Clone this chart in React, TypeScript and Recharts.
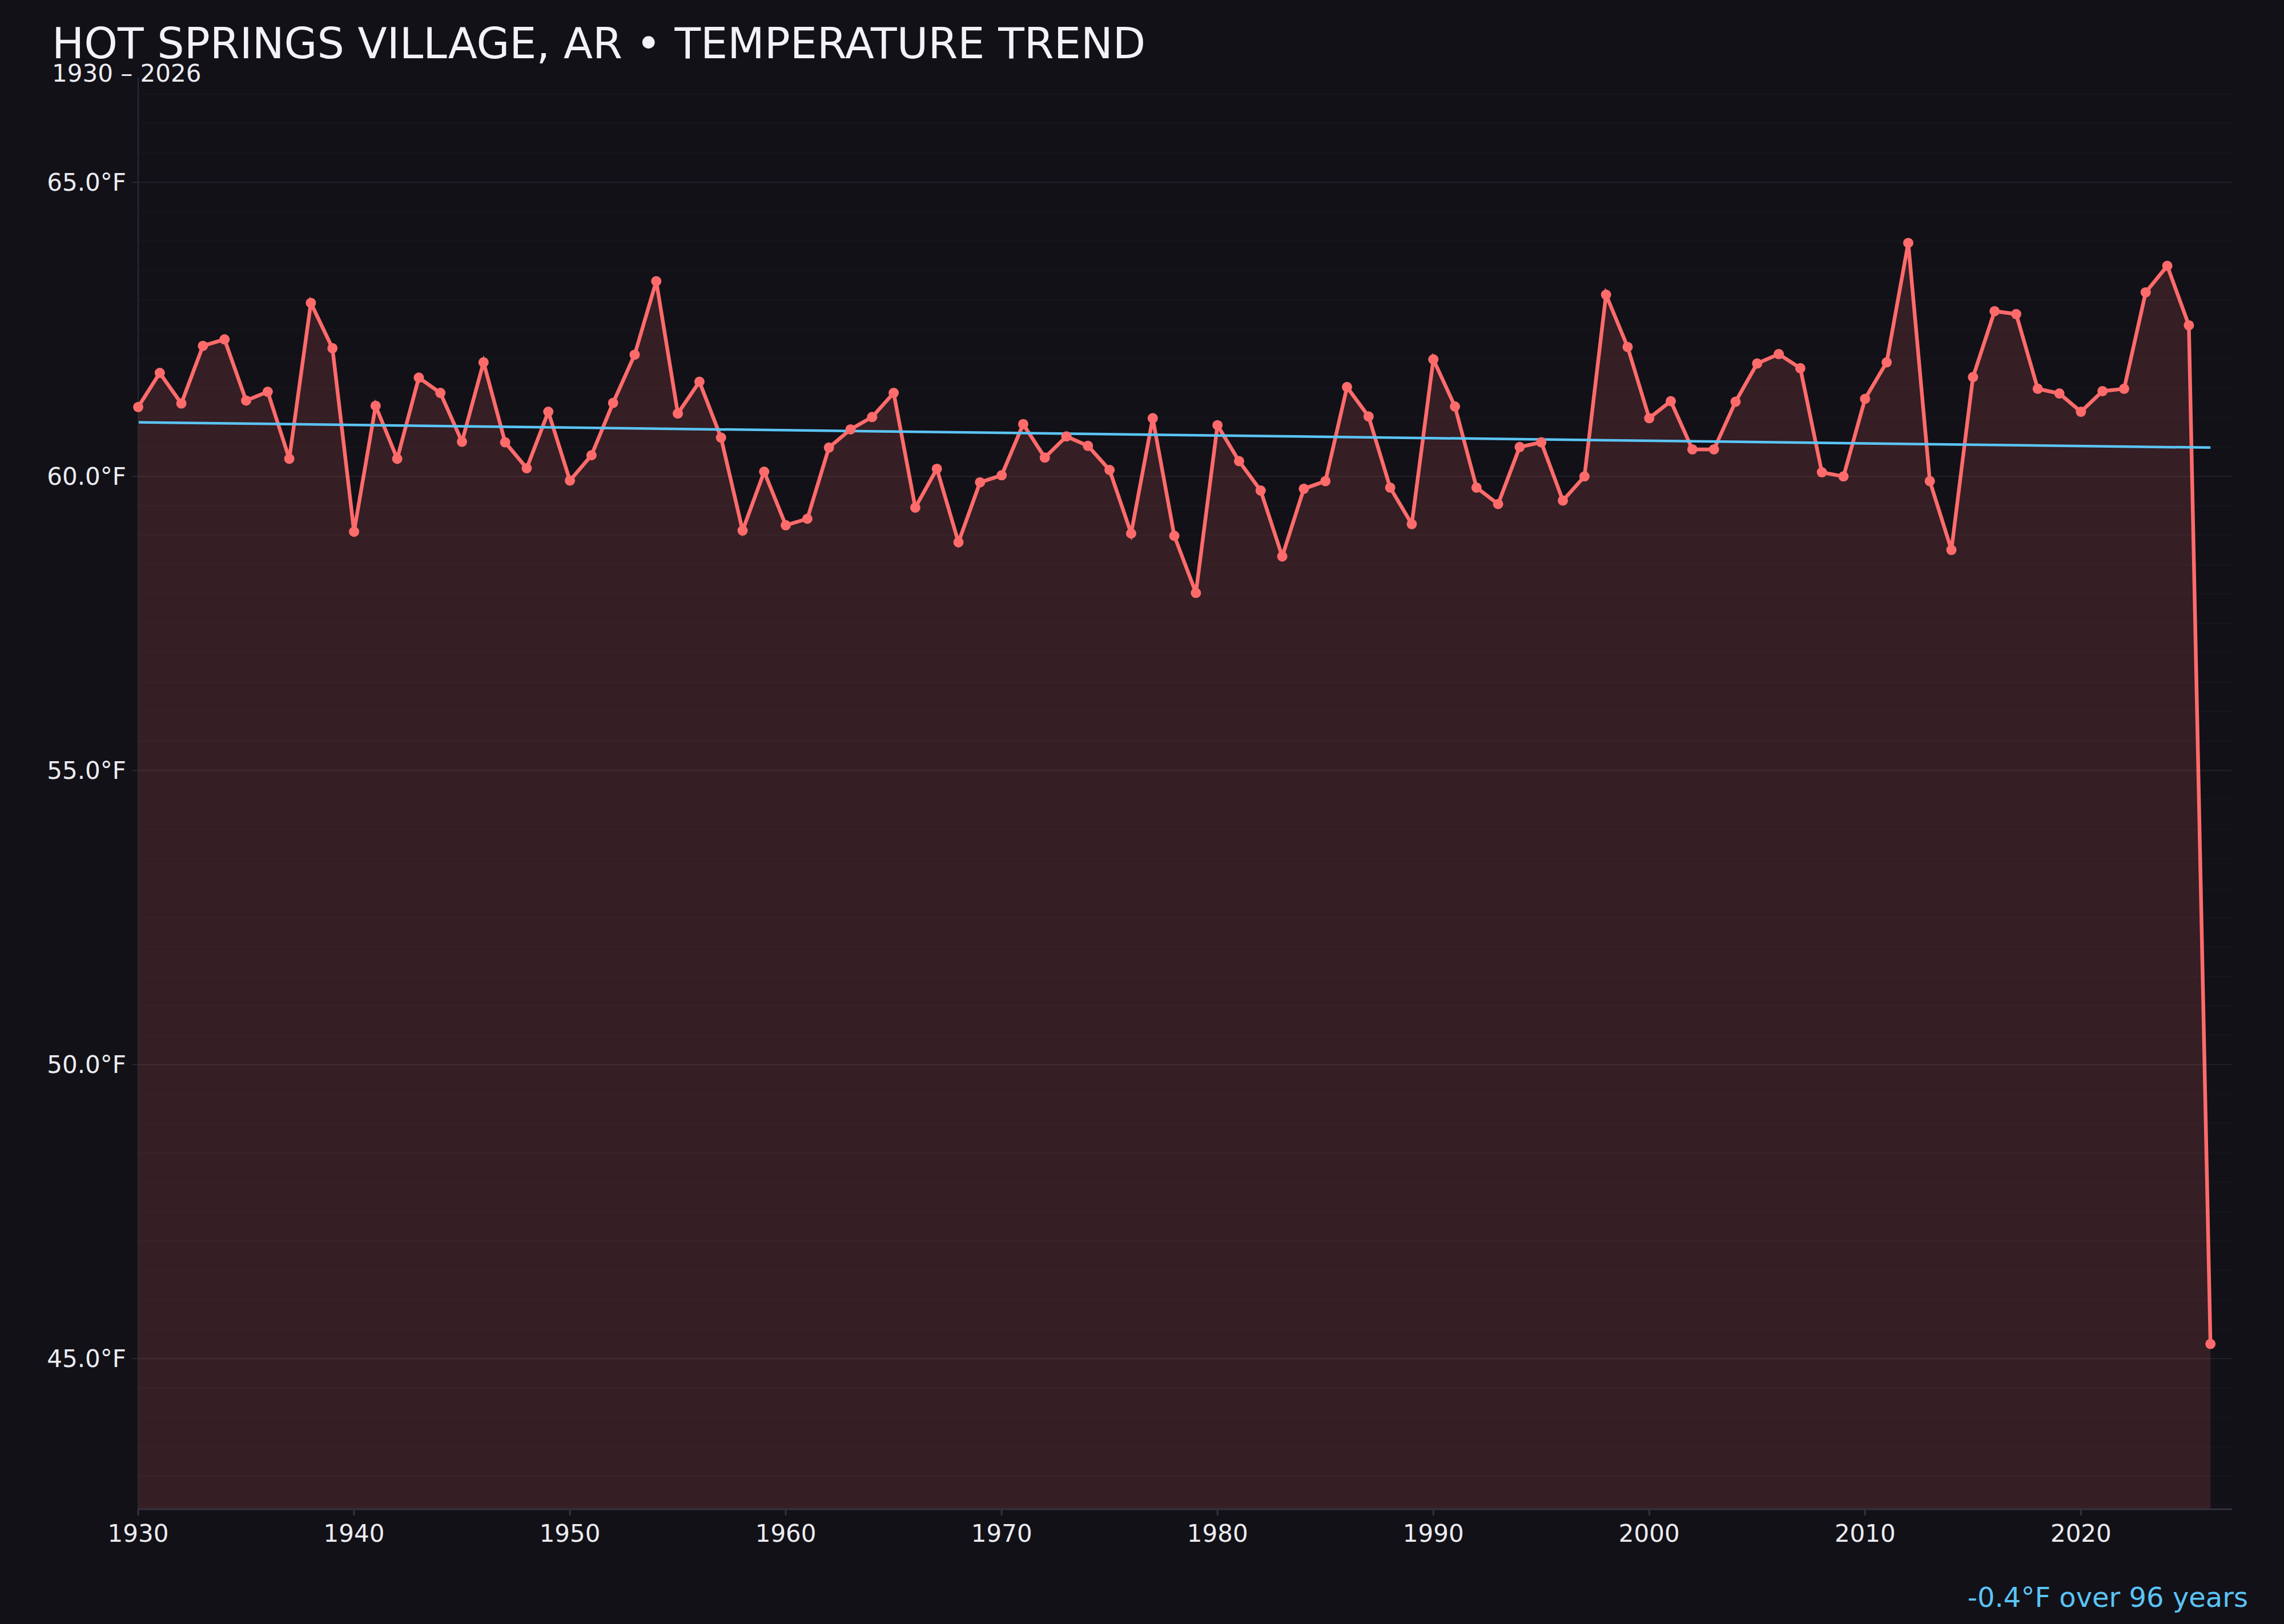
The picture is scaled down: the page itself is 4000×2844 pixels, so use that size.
import { Area, ComposedChart, Line, ReferenceLine, XAxis, YAxis } from "recharts"

const firstYear = 1930

// annual mean temperature, °F, 1930 – 2026
const temps = [
  61.18, 61.76, 61.24, 62.22, 62.33, 61.29, 61.44, 60.3, 62.95, 62.18,
  59.06, 61.2, 60.3, 61.68, 61.42, 60.59, 61.94, 60.58, 60.14, 61.1,
  59.93, 60.36, 61.25, 62.07, 63.32, 61.07, 61.61, 60.66, 59.08, 60.08,
  59.17, 59.28, 60.49, 60.8, 61.01, 61.42, 59.47, 60.13, 58.88, 59.9,
  60.02, 60.89, 60.32, 60.68, 60.52, 60.11, 59.03, 60.99, 58.99, 58.02,
  60.87, 60.26, 59.76, 58.64, 59.79, 59.92, 61.52, 61.02, 59.81, 59.19,
  61.99, 61.19, 59.81, 59.53, 60.5, 60.58, 59.59, 60.0, 63.09, 62.2,
  60.99, 61.28, 60.46, 60.46, 61.27, 61.92, 62.08, 61.84, 60.07, 60.0,
  61.32, 61.94, 63.97, 59.92, 58.75, 61.69, 62.81, 62.76, 61.49, 61.41,
  61.1, 61.45, 61.49, 63.13, 63.58, 62.57, 45.25,
]

// trend line end values
const trendStart = 60.92
const trendEnd = 60.49

const xTicks = [1930, 1940, 1950, 1960, 1970, 1980, 1990, 2000, 2010, 2020]
const yTicks = [45, 50, 55, 60, 65]

const title = "HOT SPRINGS VILLAGE, AR • TEMPERATURE TREND"
const subtitle = "1930 – 2026"
const trendLabel = "-0.4°F over 96 years"

const W = 4000
const H = 2844
const BG = "#121118"
const RED = "#ff6b6b"
const BLUE = "#5bc4f5"
const FONT = "'DejaVu Sans', sans-serif"
const Y_DOMAIN: [number, number] = [42.44, 66.78]

const data = temps.map((temp, i) => ({
  year: firstYear + i,
  temp,
  trend: i === 0 ? trendStart : i === temps.length - 1 ? trendEnd : null,
}))

// faint half-degree grid
const minorGrid: number[] = []
for (let v = 42.5; v <= 66.5; v += 0.5) {
  if (v % 5 !== 0) minorGrid.push(v)
}

export default function App() {
  return (
    <div style={{ position: "absolute", left: 0, top: 0, width: W, height: H, background: BG }}>
      <ComposedChart
        width={W}
        height={H}
        data={data}
        margin={{ top: 136, right: 91, left: 0, bottom: 0 }}
      >
        {minorGrid.map((v) => (
          <ReferenceLine key={v} y={v} stroke="#ffffff" strokeOpacity={0.025} strokeWidth={2} />
        ))}
        {yTicks.map((v) => (
          <ReferenceLine key={`major-${v}`} y={v} stroke="#ffffff" strokeOpacity={0.07} strokeWidth={2} />
        ))}
        <XAxis
          dataKey="year"
          type="number"
          domain={[1930, 2027]}
          ticks={xTicks}
          height={201}
          tickSize={11}
          tickMargin={16}
          stroke="#34333d"
          strokeWidth={3}
          tick={{ fill: "#ececf1", fontSize: 42, fontFamily: FONT }}
        />
        <YAxis
          type="number"
          domain={Y_DOMAIN}
          allowDataOverflow
          ticks={yTicks}
          width={242}
          tickSize={10}
          tickMargin={11}
          stroke="#2c2b34"
          strokeWidth={2}
          tickFormatter={(v) => `${Number(v).toFixed(1)}°F`}
          tick={{ fill: "#ececf1", fontSize: 42, fontFamily: FONT }}
        />
        <Area
          type="linear"
          dataKey="temp"
          baseValue="dataMin"
          stroke={RED}
          strokeWidth={6.5}
          fill={RED}
          fillOpacity={0.15}
          dot={{ r: 9, fill: RED, fillOpacity: 1, stroke: "none" }}
          activeDot={false}
          isAnimationActive={false}
        />
        <Line
          type="linear"
          dataKey="trend"
          connectNulls
          stroke={BLUE}
          strokeWidth={4.5}
          dot={false}
          activeDot={false}
          isAnimationActive={false}
        />
      </ComposedChart>
      <svg
        width={W}
        height={H}
        style={{ position: "absolute", left: 0, top: 0, pointerEvents: "none" }}
      >
        <text x={91} y={102} fill="#f2f2f7" fontSize={74.7} fontFamily={FONT}>
          {title}
        </text>
        <text x={91} y={143} fill="#ececf1" fontSize={42} fontFamily={FONT}>
          {subtitle}
        </text>
        <text x={3937} y={2814} fill={BLUE} fontSize={48} fontFamily={FONT} textAnchor="end">
          {trendLabel}
        </text>
      </svg>
    </div>
  )
}
